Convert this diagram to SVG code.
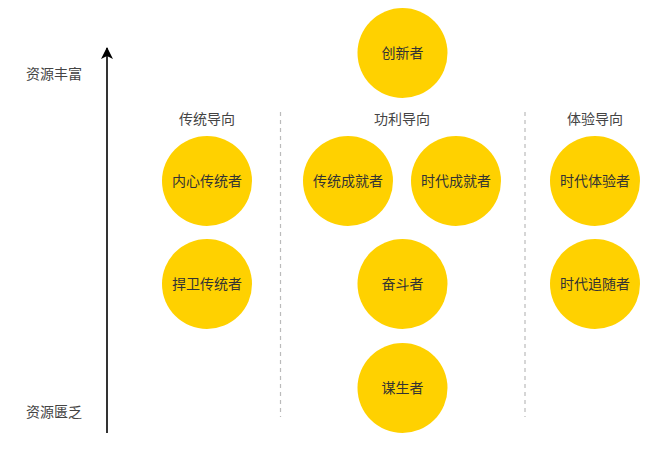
<svg xmlns="http://www.w3.org/2000/svg" width="670" height="450" viewBox="0 0 670 450">
<defs>
<style>
.node circle{fill:#FFD100;}
.node text{font-family:"Noto Sans CJK SC","Noto Sans",sans-serif;font-size:14px;fill:#333;text-anchor:middle;}
.lbl{font-family:"Noto Sans CJK SC","Noto Sans",sans-serif;font-size:14px;fill:#444;text-anchor:middle;}
.dash{stroke:#bbb;stroke-width:1.2;stroke-dasharray:4 4;fill:none;}
.axis{stroke:#000;stroke-width:1.6;fill:none;}
</style>
<marker id="arr" viewBox="0 0 12 14" refX="11" refY="6" markerWidth="12" markerHeight="14" markerUnits="userSpaceOnUse" orient="auto">
<path d="M0,0 L12,6 L0,12 L3,6 Z" fill="#000"/>
</marker>
</defs>
<rect width="670" height="450" fill="#fff"/>
<g id="connectors">
<line class="axis" x1="107" y1="433" x2="107" y2="48" marker-end="url(#arr)"/>
<line class="dash" x1="280.5" y1="112" x2="280.5" y2="417"/>
<line class="dash" x1="525" y1="112" x2="525" y2="417"/>
</g>
<g id="labels">
<text class="lbl" x="54" y="79">资源丰富</text>
<text class="lbl" x="54" y="417">资源匮乏</text>
<text class="lbl" x="207" y="124">传统导向</text>
<text class="lbl" x="402" y="124">功利导向</text>
<text class="lbl" x="595" y="124">体验导向</text>
</g>
<g id="n-chuangxin" class="node"><circle cx="402.5" cy="53" r="45"/><text x="402.5" y="58">创新者</text></g>
<g id="n-neixin" class="node"><circle cx="207" cy="181" r="45"/><text x="207" y="186">内心传统者</text></g>
<g id="n-chuantongchengjiu" class="node"><circle cx="348" cy="181" r="45"/><text x="348" y="186">传统成就者</text></g>
<g id="n-shidaichengjiu" class="node"><circle cx="456" cy="181" r="45"/><text x="456" y="186">时代成就者</text></g>
<g id="n-shidaitiyan" class="node"><circle cx="595" cy="181" r="45"/><text x="595" y="186">时代体验者</text></g>
<g id="n-hanwei" class="node"><circle cx="207" cy="284" r="45"/><text x="207" y="289">捍卫传统者</text></g>
<g id="n-fendou" class="node"><circle cx="402.5" cy="284" r="45"/><text x="402.5" y="289">奋斗者</text></g>
<g id="n-zhuisui" class="node"><circle cx="595" cy="284" r="45"/><text x="595" y="289">时代追随者</text></g>
<g id="n-mousheng" class="node"><circle cx="402.5" cy="388" r="45"/><text x="402.5" y="393">谋生者</text></g>
</svg>
